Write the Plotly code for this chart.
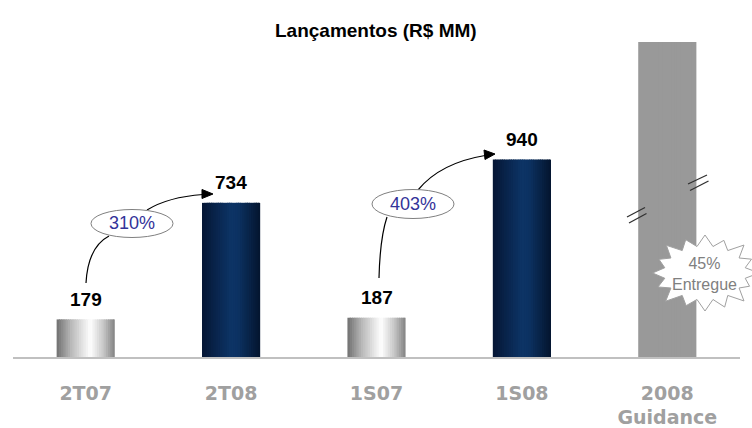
import math
import plotly.graph_objects as go

# ---------------- data ----------------
categories = ["2T07", "2T08", "1S07", "1S08", "2008"]
tick_labels = ["2T07", "2T08", "1S07", "1S08", "2008<br>Guidance"]
values = [179, 734, 187, 940, 2100]
growth_labels = ["310%", "403%"]
delivered_label = "45%<br>Entregue"
title_text = "Lançamentos (R$ MM)"

# ---------------- layout geometry (style) ----------------
W, H = 752, 428
ML, MR, MT, MB = 13, 12, 42, 71
Y_MAX = 1500  # axis break: the guidance bar is clipped at the top
BAR_W = 0.4
N_STRIPS = 26

def px(x):
    return (x - ML) / (W - ML - MR)

def py(y):
    return (H - MB - y) / (H - MB - MT)

def P(x, y):
    return f"{px(x):.5f},{py(y):.5f}"

def lerp(c1, c2, t):
    return tuple(round(a + (b - a) * t) for a, b in zip(c1, c2))

def grad(stops, t):
    for (t0, c0), (t1, c1) in zip(stops, stops[1:]):
        if t0 <= t <= t1:
            u = (t - t0) / (t1 - t0) if t1 > t0 else 0
            return lerp(c0, c1, u)
    return stops[-1][1]

gray_stops = [(0.0, (112, 112, 112)), (0.25, (185, 185, 185)), (0.58, (255, 255, 255)),
              (0.8, (200, 200, 200)), (1.0, (130, 130, 130))]
navy_stops = [(0.0, (5, 22, 52)), (0.5, (13, 52, 102)), (0.62, (12, 50, 98)), (1.0, (4, 20, 46))]
flat_stops = [(0.0, (153, 153, 153)), (1.0, (153, 153, 153))]

groups = [([0, 2], gray_stops), ([1, 3], navy_stops), ([4], flat_stops)]

fig = go.Figure()
step = BAR_W / N_STRIPS
for idx, stops in groups:
    xs = [categories[i] for i in idx]
    ys = [values[i] for i in idx]
    for k in range(N_STRIPS):
        t = (k + 0.5) / N_STRIPS
        c = grad(stops, t)
        w = step * (1.6 if k < N_STRIPS - 1 else 1.0)
        fig.add_trace(go.Bar(
            x=xs, y=ys, width=[w] * len(xs), offset=[-BAR_W / 2 + k * step] * len(xs),
            marker=dict(color=f"rgb{c}", line=dict(width=0)),
            showlegend=False, hoverinfo="skip"))

# value labels
annotations = []
for c, v in zip(categories, values):
    annotations.append(dict(x=c, y=min(v, Y_MAX), xref="x", yref="y", text=f"<b>{v}</b>",
                            showarrow=False, yshift=20, yanchor="middle",
                            font=dict(family="Liberation Sans, Arial", size=19, color="#000000")))

# title
annotations.append(dict(x=px(376), y=py(31), xref="paper", yref="paper", text=f"<b>{title_text}</b>",
                        showarrow=False, xanchor="center", yanchor="middle",
                        font=dict(family="Liberation Sans, Arial", size=19, color="#000000")))

shapes = []
# growth arrows
arrow_paths = [
    ("M" + P(86, 283) + " Q" + P(88, 247) + " " + P(109, 236),
     "M" + P(147, 210) + " Q" + P(168, 197) + " " + P(203, 194.5),
     [(213, 194), (202, 189.5), (202, 198.5)]),
    ("M" + P(379, 278) + " Q" + P(380, 238) + " " + P(387, 217),
     "M" + P(418, 190) + " Q" + P(440, 163) + " " + P(485, 155.5),
     [(495, 154), (484, 150), (485, 159.5)]),
]
for p1, p2, tri in arrow_paths:
    for p in (p1, p2):
        shapes.append(dict(type="path", xref="paper", yref="paper", path=p,
                           line=dict(color="#000000", width=1.2)))
    shapes.append(dict(type="path", xref="paper", yref="paper",
                       path="M" + " L".join(P(*q) for q in tri) + " Z",
                       fillcolor="#000000", line=dict(color="#000000", width=1)))

# ellipses with growth labels
ellipses = [(132, 223.5, 41, 14), (413, 204, 41, 14.5)]
for (cx, cy, rx, ry), lab in zip(ellipses, growth_labels):
    shapes.append(dict(type="circle", xref="paper", yref="paper",
                       x0=px(cx - rx), x1=px(cx + rx), y0=py(cy + ry), y1=py(cy - ry),
                       fillcolor="#ffffff", line=dict(color="#808080", width=1)))
    annotations.append(dict(x=px(cx), y=py(cy), xref="paper", yref="paper", text=lab,
                            showarrow=False, xanchor="center", yanchor="middle",
                            font=dict(family="Liberation Sans, Arial", size=18, color="#333399")))

# axis break marks
for (x0, y0, x1, y1) in [(627, 217, 645, 207.5), (629, 223, 646.5, 213.5),
                         (688, 184, 707, 175), (690, 190.5, 708.5, 181)]:
    shapes.append(dict(type="line", xref="paper", yref="paper",
                       x0=px(x0), y0=py(y0), x1=px(x1), y1=py(y1),
                       line=dict(color="#303030", width=1.3)))

# starburst
cx, cy = 705, 273
outer = [1.00, 0.93, 1.04, 0.95, 1.02, 0.91, 1.04, 0.97, 1.0, 0.93, 1.05, 0.96, 0.99, 0.94, 1.03, 0.95]
pts = []
n = len(outer)
for i in range(n):
    a = -math.pi / 2 + 2 * math.pi * i / n
    pts.append((cx + 53 * outer[i] * math.cos(a), cy + 38 * outer[i] * math.sin(a)))
    a2 = a + math.pi / n
    pts.append((cx + 41 * math.cos(a2), cy + 27 * math.sin(a2)))
shapes.append(dict(type="path", xref="paper", yref="paper",
                   path="M" + " L".join(P(*q) for q in pts) + " Z",
                   fillcolor="#ffffff", line=dict(color="#a0a0a0", width=1)))
annotations.append(dict(x=px(704), y=py(274), xref="paper", yref="paper", text=delivered_label,
                        showarrow=False, xanchor="center", yanchor="middle",
                        font=dict(family="Liberation Sans, Arial", size=16, color="#808080")))

fig.update_layout(
    width=W, height=H, margin=dict(l=ML, r=MR, t=MT, b=MB, autoexpand=False),
    paper_bgcolor="#ffffff", plot_bgcolor="#ffffff",
    barmode="overlay", showlegend=False,
    shapes=shapes, annotations=annotations,
    xaxis=dict(type="category", categoryorder="array", categoryarray=categories,
               range=[-0.5, 4.5], tickvals=categories, ticktext=tick_labels,
               showline=True, linecolor="#c0c0c0", linewidth=1.5, showgrid=False,
               zeroline=False, ticks="", ticklabelstandoff=18, automargin=False,
               tickfont=dict(family="DejaVu Sans", size=19, color="#a0a0a0", weight="bold")),
    yaxis=dict(range=[0, Y_MAX], visible=False, showgrid=False, zeroline=False, automargin=False),
)

fig.write_html("out.html", config={"displayModeBar": False},
               post_script="document.body.style.margin='0';")
